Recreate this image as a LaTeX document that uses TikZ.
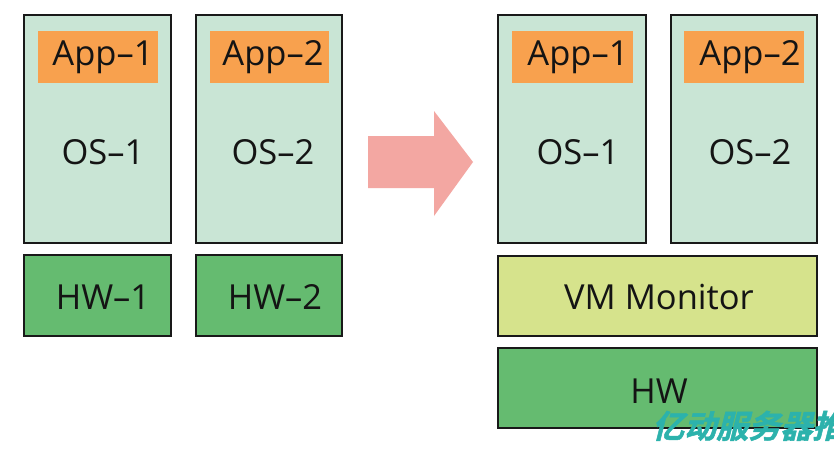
\documentclass[tikz,border=0pt]{standalone}
\usepackage{fontspec}
\setmainfont{Open Sans}
\newfontfamily\cjkfont[FakeSlant=0.25,FakeBold=1.5]{Noto Sans CJK SC Bold}
\begin{document}
\begin{tikzpicture}[x=1pt,y=-1pt,
  osbox/.style={draw=black!90,line width=2.8pt,fill=osgreen},
  appbox/.style={fill=apporange},
  hwbox/.style={draw=black!90,line width=2.8pt,fill=hwgreen},
  vmbox/.style={draw=black!90,line width=2.8pt,fill=vmyellow},
  lbl/.style={font=\fontsize{34.5}{38}\selectfont,text=black!92}]
\definecolor{osgreen}{RGB}{201,229,213}
\definecolor{apporange}{RGB}{248,161,78}
\definecolor{hwgreen}{RGB}{101,187,112}
\definecolor{vmyellow}{RGB}{214,227,140}
\definecolor{arrowpink}{RGB}{243,167,162}
\definecolor{wmteal}{RGB}{44,178,172}
\useasboundingbox (0,0) rectangle (834,448);
\fill[white] (0,0) rectangle (834,448);
% left side
\draw[osbox] (24,15) rectangle (171,243);
\fill[appbox] (38,31) rectangle (158,83);
\node[lbl] (app1) at (103,57) {App–1};
\node[lbl] (os1) at (103,152) {OS–1};
\draw[osbox] (196,15) rectangle (342,243);
\fill[appbox] (210,31) rectangle (329,83);
\node[lbl] (app2) at (273,57) {App–2};
\node[lbl] (os2) at (273,152) {OS–2};
\draw[hwbox] (24,255) rectangle (171,336);
\node[lbl] (hw1) at (103,297) {HW–1};
\draw[hwbox] (196,255) rectangle (342,336);
\node[lbl] (hw2) at (275,297) {HW–2};
% arrow
\fill[arrowpink] (368,136) -- (434,136) -- (434,111) -- (473,162) -- (434,216) -- (434,188) -- (368,188) -- cycle;
% right side
\draw[osbox] (498,15) rectangle (646,243);
\fill[appbox] (512,31) rectangle (633,83);
\node[lbl] (app1b) at (578,57) {App–1};
\node[lbl] (os1b) at (578,152) {OS–1};
\draw[osbox] (671,15) rectangle (817,243);
\fill[appbox] (684,31) rectangle (804,83);
\node[lbl] (app2b) at (750,57) {App–2};
\node[lbl] (os2b) at (750,152) {OS–2};
\draw[vmbox] (498,256) rectangle (817,336);
\node[lbl] (vm) at (659,297) {VM Monitor};
\draw[hwbox] (498,348) rectangle (817,428);
\node[lbl] (hw) at (659,391) {HW};
% watermark
\begin{scope}
\clip (0,0) rectangle (834,448);
\node[anchor=base west,inner sep=0pt,text=wmteal,font=\cjkfont\fontsize{32}{32}\selectfont] (wm) at (652,438) {亿动服务器推};
\end{scope}
\end{tikzpicture}
\end{document}
